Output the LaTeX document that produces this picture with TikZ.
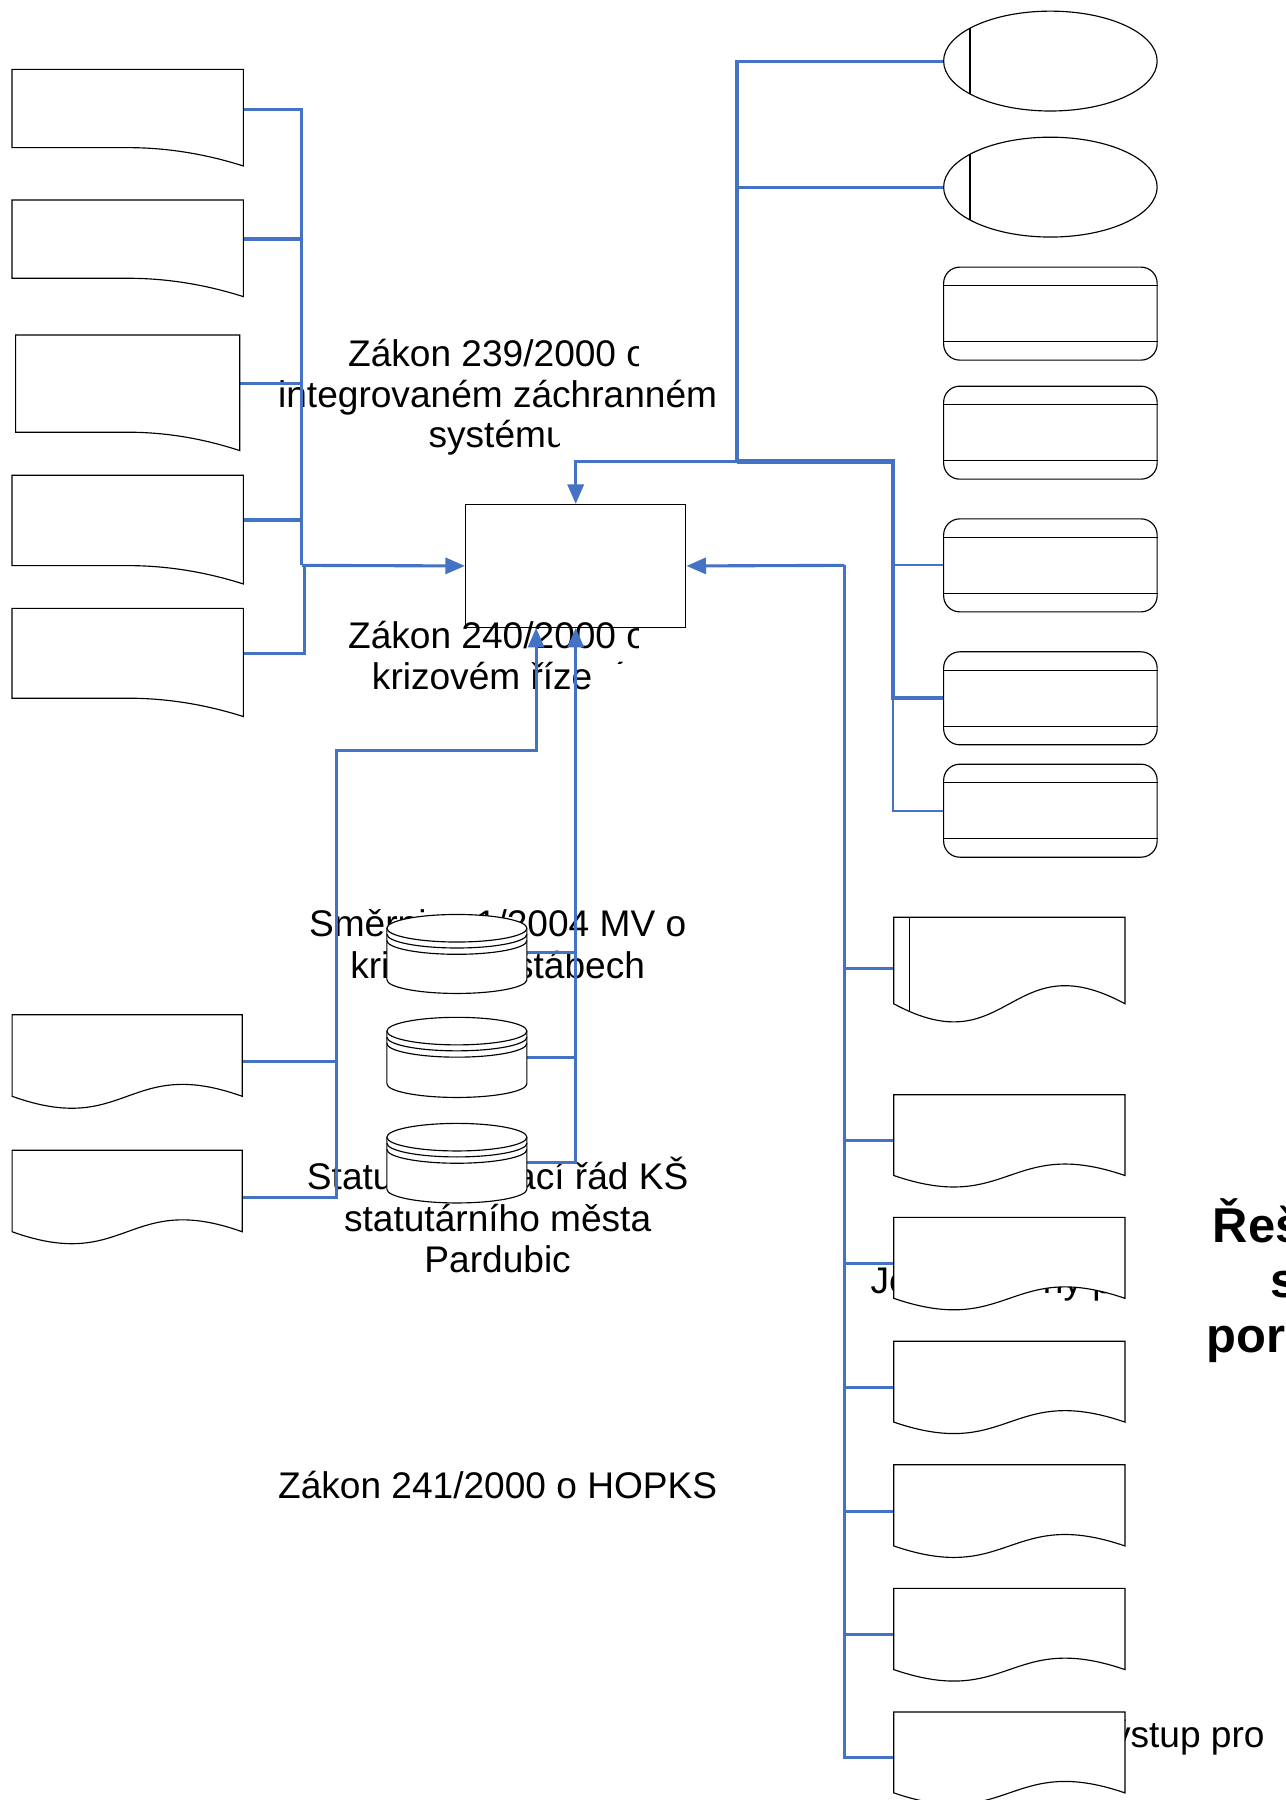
\documentclass[tikz,border=0pt]{standalone}
\usepackage{fontspec}
\setmainfont{Liberation Sans}
\usetikzlibrary{arrows.meta,shapes.geometric}
\definecolor{myblue}{RGB}{68,114,196}
% document with flat bottom that curves down on the right: L, R, top, b, d
\newcommand\topdoc[5]{%
 \pgfmathsetmacro\qqw{#2-#1}%
 \filldraw[shp] (#1,#3) -- (#2,#3) -- (#2,{#4+#5}) .. controls ({#2-\qqw/6},{#4+#5/3}) and ({#2-\qqw/3},#4) .. ({#2-\qqw/2},#4) -- (#1,#4) -- cycle;}
% wavy document: L, R, top, end y, d
\newcommand\wavedoc[5]{%
 \filldraw[shp] (#1,#3) -- (#2,#3) -- (#2,#4) .. controls ({(#1+#2)/2},{#4-#5}) and ({(#1+#2)/2},{#4+#5}) .. (#1,#4) -- cycle;}
% cylinder: cx, top ellipse centre y, bottom ellipse centre y
\newcommand\cylshape[3]{%
 \pgfmathsetmacro\qqa{#1-61}\pgfmathsetmacro\qqb{#1+61}%
 \pgfmathsetmacro\qqc{#1-33.7}\pgfmathsetmacro\qqd{#1+33.7}%
 \filldraw[shp] (\qqa,#2) .. controls (\qqa,{#2-6.6}) and (\qqc,{#2-12}) .. (#1,{#2-12}) .. controls (\qqd,{#2-12}) and (\qqb,{#2-6.6}) .. (\qqb,#2) -- (\qqb,#3) .. controls (\qqb,{#3+6.6}) and (\qqd,{#3+12}) .. (#1,{#3+12}) .. controls (\qqc,{#3+12}) and (\qqa,{#3+6.6}) .. (\qqa,#3) -- cycle;
 \foreach \qo in {0,5.2,10.7}{\draw[shpl] (\qqa,{#2+\qo}) .. controls (\qqa,{#2+\qo+6.6}) and (\qqc,{#2+\qo+12}) .. (#1,{#2+\qo+12}) .. controls (\qqd,{#2+\qo+12}) and (\qqb,{#2+\qo+6.6}) .. (\qqb,{#2+\qo});}%
}
\begin{document}
\begin{tikzpicture}[x=0.5pt,y=-0.5pt,
 shp/.style={draw=black,line width=0.5pt,fill=white},
 shpl/.style={draw=black,line width=0.5pt},
 conn/.style={draw=myblue,line width=1.35pt},
 conthick/.style={draw=myblue,line width=1.8pt},
 conthin/.style={draw=myblue,line width=0.95pt},
 arrconn/.style={conn,-{Triangle[length=8.5pt,width=7pt]}},
 txt/.style={font=\fontsize{16.15}{18}\selectfont,inner sep=0pt,anchor=base},
 btxt/.style={font=\bfseries\fontsize{21.3}{24}\selectfont,inner sep=0pt,anchor=base west},
 rbox/.style={shp,rounded corners=7pt,minimum width=93pt,minimum height=40.5pt,inner sep=0pt},
 ebox/.style={shp,ellipse,minimum width=93pt,minimum height=43.5pt,inner sep=0pt}]
\useasboundingbox (0,0) rectangle (1120,1568);
\fill[white] (0,0) rectangle (1120,1568);

% ---------- texts ----------
\node[txt] (t1a) at (433.5,319.5) {Zákon 239/2000 o};
\node[txt] (t1b) at (433.5,355) {integrovaném záchranném};
\node[txt] (t1c) at (433.5,390) {systému};
\node[txt] (t2a) at (433.5,565) {Zákon 240/2000 o};
\node[txt] (t2b) at (433.5,600.5) {krizovém řízení};
\node[txt] (t3a) at (433.5,816) {Směrnice 1/2004 MV o};
\node[txt] (t3b) at (433.5,852) {krizových štábech};
\node[txt] (t4a) at (433.5,1036.5) {Statut a jednací řád KŠ};
\node[txt] (t4b) at (433.5,1072.7) {statutárního města};
\node[txt] (t4c) at (433.5,1108.5) {Pardubic};
\node[txt] (t5) at (433.5,1305.5) {Zákon 241/2000 o HOPKS};
\node[txt,anchor=base west] (t6) at (758,1126.5) {Je\hspace{58pt}ny pr};
\node[txt,anchor=base east] (t7) at (1102,1522.6) {výstup pro};
\node[btxt] (b1) at (1056,1082) {Řeš};
\node[btxt] (b2) at (1106,1130) {s};
\node[btxt] (b3) at (1051,1178.5) {por};

% ---------- invisible covers that clip the texts ----------
\fill[white] (557,295) rectangle (610,323);
\fill[white] (488,362) rectangle (560,398);
\fill[white] (557,538) rectangle (610,568);
\fill[white] (516,578) rectangle (570,608);

% ---------- coordinates ----------
\coordinate (d1) at (212,95);
\coordinate (d2) at (212,208.2);
\coordinate (d3) at (208.8,334);
\coordinate (d4) at (212,453);
\coordinate (d5) at (212,569);
\coordinate (jl) at (263,492.5);
\coordinate (jl2) at (265,492.5);
\coordinate (tr) at (642,402);
\coordinate (tr2) at (778,402);
\coordinate (rb) at (735.5,492.5);
\coordinate (ld1) at (211,924.6);
\coordinate (ld2) at (211,1043);
\coordinate (lb) at (293.5,654);
\coordinate (lbu) at (467,654);
\coordinate (c1) at (459,830);
\coordinate (c2) at (459,921);
\coordinate (c3) at (459,1013);
\coordinate (w1) at (778.6,844);
\coordinate (w2) at (778.6,993.7);
\coordinate (w3) at (778.6,1101);
\coordinate (w4) at (778.6,1208.6);
\coordinate (w5) at (778.6,1316.6);
\coordinate (w6) at (778.6,1424);
\coordinate (w7) at (778.6,1531.3);

% ---------- nodes ----------
\node[shpl,minimum width=96pt,minimum height=53.5pt,inner sep=0pt,anchor=north west] (cbox) at (405,439) {};
\node[ebox] (e1) at (915,53.2) {};
\node[ebox] (e2) at (915,163) {};
\node[rbox] (r1) at (915,273.2) {};
\node[rbox] (r2) at (915,376.9) {};
\node[rbox] (r3) at (915,492.5) {};
\node[rbox] (r4) at (915,608.3) {};
\node[rbox] (r5) at (915,706.2) {};
\draw[shpl] (845,24.6) -- (845,81.8);
\draw[shpl] (845,134.4) -- (845,191.6);
\foreach \r in {r1,r2,r3,r4,r5}{
 \draw[shpl] ([yshift=12.1pt]\r.west) -- ([yshift=12.1pt]\r.east);
 \draw[shpl] ([yshift=-12.1pt]\r.west) -- ([yshift=-12.1pt]\r.east);
}

% ---------- connectors ----------
\draw[conn] (d1) -| (jl);
\draw[conn] (d2) -- (d2 -| jl);
\draw[conn] (d3) -- (d3 -| jl);
\draw[conn] (d4) -- (d4 -| jl);
\draw[conn] (d5) -| (jl2);
\draw[arrconn] (jl) -- (cbox.west);

\draw[conn] (e1.west) -| (tr);
\draw[conn] (e2.west) -- (e2.west -| tr);
\draw[arrconn] (tr) -- (cbox.north |- tr) -- (cbox.north);
\draw[conthick] (tr) -- (tr2) -- (r4.west -| tr2) -- (r4.west);
\draw[conthin] (r4.west -| tr2) |- (r5.west);
\draw[conthin] (r3.west -| tr2) -- (r3.west);

\draw[arrconn] (rb) -- (cbox.east);
\draw[conn] (rb) |- (w7);
\foreach \w in {w1,w2,w3,w4,w5,w6}{\draw[conn] (\w -| rb) -- (\w);}

\draw[arrconn] (ld2) -| (lb) -- (lbu) -- (lbu |- cbox.south);
\draw[conn] (ld1) -- (ld1 -| lb);
\draw[arrconn] (c3) -| (cbox.south);
\draw[conn] (c1) -- (c1 -| cbox.south);
\draw[conn] (c2) -- (c2 -| cbox.south);

% ---------- shapes ----------
\topdoc{10.5}{212}{60.4}{128.6}{16}
\topdoc{10.5}{212}{174.2}{242.4}{16}
\topdoc{13.6}{208.8}{291.8}{376.5}{16}
\topdoc{10.5}{212}{414}{492.7}{16}
\topdoc{10.5}{212}{530}{608.2}{16}

\wavedoc{10.6}{211}{884}{955}{36}
\wavedoc{10.6}{211}{1002}{1073}{36}

\wavedoc{778.6}{980}{799}{874.4}{54.6}
\draw[shpl] (792.6,799) -- (792.6,881.3);
\wavedoc{778.6}{980}{953.6}{1024}{34.6}
\wavedoc{778.6}{980}{1060.5}{1131}{34.6}
\wavedoc{778.6}{980}{1168.3}{1238.8}{34.6}
\wavedoc{778.6}{980}{1276}{1346.7}{34.6}
\wavedoc{778.6}{980}{1383.6}{1454.4}{34.6}
\wavedoc{778.6}{980}{1491.3}{1561.8}{34.6}

\cylshape{398}{808.6}{853.4}
\cylshape{398}{898.2}{944}
\cylshape{398}{990.6}{1035.9}
\end{tikzpicture}
\end{document}
